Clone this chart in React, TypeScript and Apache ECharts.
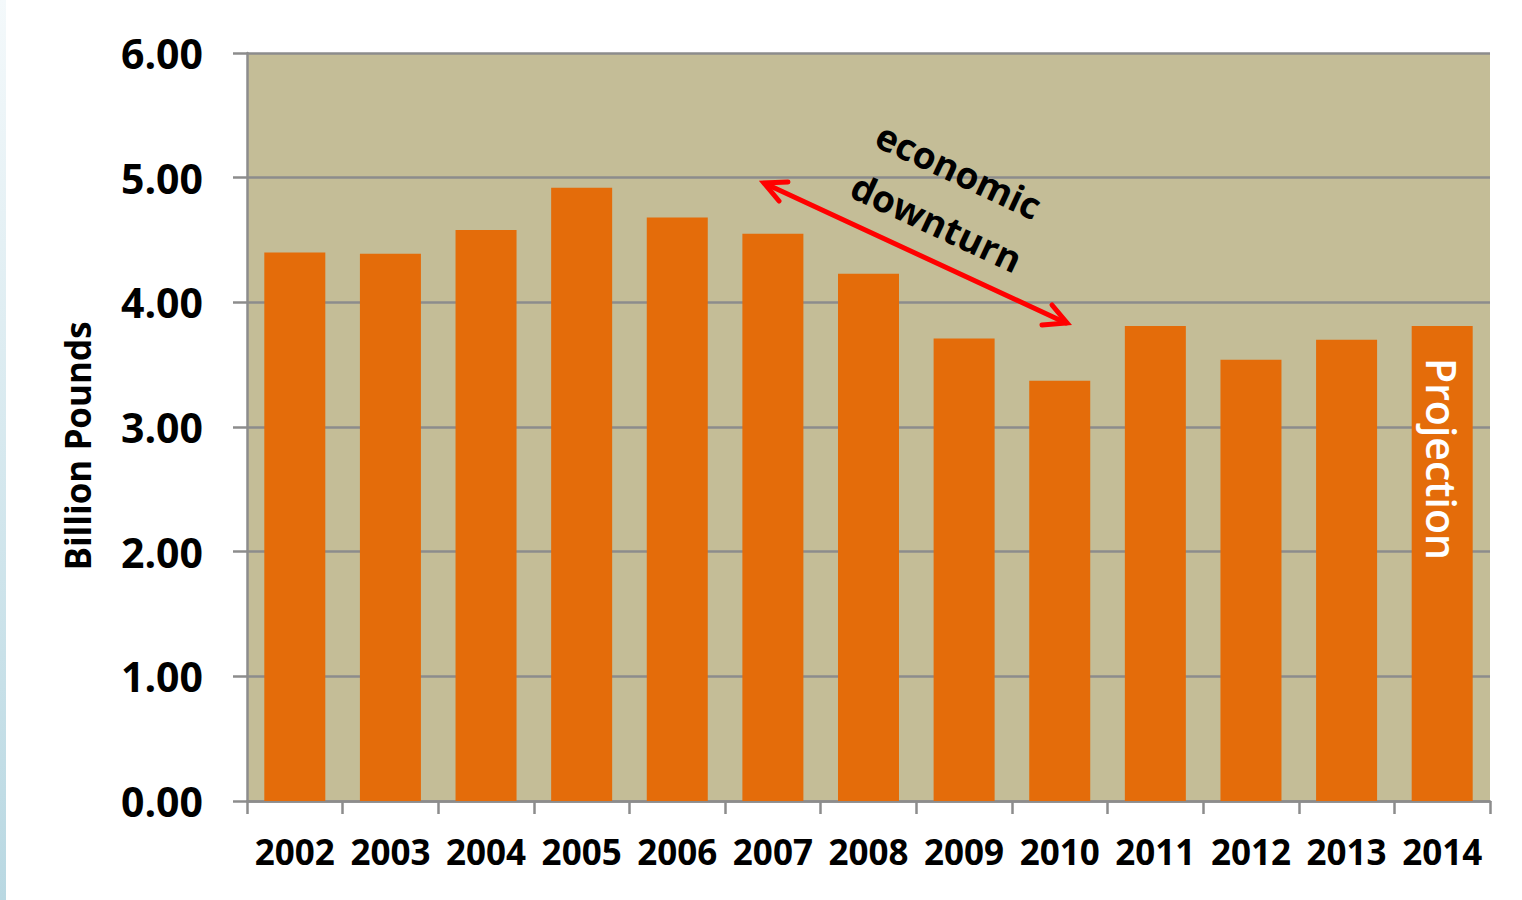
import React, { useEffect, useRef } from "react";
import * as echarts from "echarts";

const years = ["2002", "2003", "2004", "2005", "2006", "2007", "2008", "2009", "2010", "2011", "2012", "2013", "2014"];
const values = [4.40, 4.39, 4.58, 4.92, 4.68, 4.55, 4.23, 3.71, 3.37, 3.81, 3.54, 3.70, 3.81];
const yAxisTitle = "Billion Pounds";
const annotationLines = ["economic", "downturn"];
const projectionLabel = "Projection";

const FONT = "'Open Sans', 'Noto Sans', sans-serif";

export default function App() {
  const ref = useRef<HTMLDivElement>(null);
  useEffect(() => {
    if (!ref.current) return;
    const chart = echarts.init(ref.current, null, { renderer: "svg" });
    const ang = -25 * Math.PI / 180;
    chart.setOption({
      animation: false,
      backgroundColor: "#ffffff",
      grid: { left: 247, top: 53, right: 32, bottom: 99, show: true, backgroundColor: "#c4bd97", borderWidth: 0 },
      xAxis: {
        type: "category",
        data: years,
        boundaryGap: true,
        axisLine: { show: true, lineStyle: { color: "#8c8c8c", width: 2.5 } },
        axisTick: { show: true, length: 13, interval: 0, alignWithLabel: false, lineStyle: { color: "#8c8c8c", width: 2.5 } },
        axisLabel: { color: "#000", fontFamily: FONT, fontWeight: "bold", fontSize: 35, margin: 33, interval: 0, hideOverlap: false },
        splitLine: { show: false },
      },
      yAxis: {
        type: "value",
        min: 0,
        max: 6,
        interval: 1,
        axisLine: { show: true, lineStyle: { color: "#8c8c8c", width: 2.5 } },
        axisTick: { show: true, length: 14, lineStyle: { color: "#8c8c8c", width: 2.5 } },
        axisLabel: {
          color: "#000", fontFamily: FONT, fontWeight: "bold", fontSize: 41, margin: 44,
          formatter: (v: number) => v.toFixed(2),
        },
        splitLine: { show: true, lineStyle: { color: "#8c8c8c", width: 2.5 } },
      },
      series: [
        {
          type: "bar",
          data: values,
          barWidth: 61,
          itemStyle: { color: "#e46c0a" },
          z: 3,
        },
      ],
      graphic: [
        {
          type: "rect",
          shape: { x: 0, y: 0, width: 6, height: 900 },
          style: {
            fill: new echarts.graphic.LinearGradient(0, 0, 0, 1, [
              { offset: 0, color: "#f4f9fb" },
              { offset: 1, color: "#b9d8e2" },
            ]),
          },
          silent: true,
        },
        {
          type: "text",
          x: 77, y: 446, rotation: Math.PI / 2,
          style: { text: yAxisTitle, fill: "#000", font: `bold 35px ${FONT}`, align: "center", verticalAlign: "middle" },
        },
        {
          type: "text",
          x: 959, y: 170, rotation: ang,
          style: { text: annotationLines[0], fill: "#000", font: `bold 37px ${FONT}`, align: "center", verticalAlign: "middle" },
          z: 10,
        },
        {
          type: "text",
          x: 937, y: 222, rotation: ang,
          style: { text: annotationLines[1], fill: "#000", font: `bold 37px ${FONT}`, align: "center", verticalAlign: "middle" },
          z: 10,
        },
        {
          type: "line",
          shape: { x1: 766, y1: 184, x2: 1066, y2: 323 },
          style: { stroke: "#ff0000", lineWidth: 5, lineCap: "round" },
          z: 10,
        },
        {
          type: "polyline",
          shape: { points: [[779, 201], [764, 183], [788, 182]] },
          style: { stroke: "#ff0000", lineWidth: 5, fill: "none", lineCap: "round", lineJoin: "miter" },
          z: 10,
        },
        {
          type: "polyline",
          shape: { points: [[1052, 305], [1067, 323], [1042, 325]] },
          style: { stroke: "#ff0000", lineWidth: 5, fill: "none", lineCap: "round", lineJoin: "miter" },
          z: 10,
        },
        {
          type: "text",
          x: 1442, y: 459, rotation: -Math.PI / 2,
          style: { text: projectionLabel, fill: "#fff", font: `600 41px ${FONT}`, align: "center", verticalAlign: "middle" },
          z: 10,
        },
      ],
    });
    return () => chart.dispose();
  }, []);
  return <div ref={ref} style={{ position: "fixed", left: 0, top: 0, width: 1522, height: 900 }} />;
}
